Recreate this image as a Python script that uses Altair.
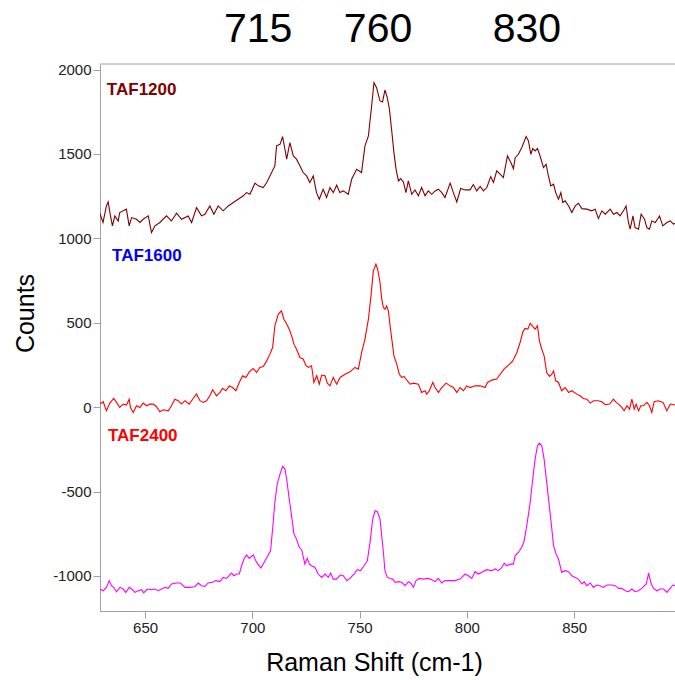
import altair as alt
import pandas as pd

# ---------------- data ----------------
taf1200_x = [628.9, 630.4, 632.0, 632.8, 633.9, 634.8, 635.9, 637.5, 638.2, 639.8, 641.3, 642.6, 643.7, 646.0,
             647.6, 649.1, 651.5, 653.0, 654.6, 656.9, 660.0, 662.3, 664.7, 667.0, 670.1, 671.7, 674.0, 676.3,
             677.9, 680.2, 682.1, 684.1, 686.4, 688.8, 691.1, 693.4, 695.8, 697.3, 698.9, 701.2, 702.8, 705.1,
             706.7, 709.0, 710.5, 711.3, 712.9, 714.1, 715.2, 716.0, 717.5, 719.1, 720.6, 722.2, 723.7, 725.3,
             726.8, 728.4, 729.9, 731.2, 733.0, 734.6, 736.2, 737.7, 739.3, 740.8, 742.4, 744.7, 746.3, 748.6,
             750.9, 752.5, 754.1, 755.6, 756.7, 757.9, 759.5, 760.7, 761.8, 762.9, 763.9, 764.9, 766.0, 767.0,
             768.1, 769.1, 770.4, 771.6, 772.7, 774.3, 775.8, 777.4, 778.9, 780.5, 782.0, 783.6, 785.2, 786.7,
             788.3, 789.8, 792.2, 793.7, 795.3, 797.1, 799.2, 801.5, 803.0, 804.6, 806.2, 807.7, 809.3, 811.1,
             812.4, 813.9, 815.5, 817.0, 818.9, 820.5, 821.7, 822.5, 824.0, 825.6, 827.6, 828.7, 829.8, 830.7,
             831.8, 832.9, 834.1, 835.7, 836.9, 838.0, 839.1, 840.4, 841.4, 842.7, 843.8, 844.7, 845.8, 847.4,
             848.9, 850.5, 852.0, 853.6, 855.9, 858.2, 859.8, 861.3, 862.9, 864.5, 866.8, 868.3, 869.9, 871.4,
             873.0, 874.2, 875.3, 876.1, 877.4, 878.4, 880.0, 881.2, 882.8, 883.9, 885.1, 886.2, 887.8, 889.8,
             891.3, 893.2, 894.8, 896.3, 897.1]
taf1200_y = [1149, 1094, 1192, 1216, 1133, 1074, 1133, 1103, 1153, 1163, 1173, 1074, 1123, 1113,
             1094, 1113, 1133, 1034, 1074, 1094, 1133, 1103, 1149, 1113, 1133, 1094, 1182, 1133,
             1143, 1192, 1143, 1192, 1163, 1192, 1212, 1232, 1252, 1271, 1261, 1327, 1311, 1301,
             1331, 1390, 1429, 1548, 1557, 1603, 1528, 1469, 1567, 1488, 1469, 1429, 1390, 1370,
             1331, 1370, 1271, 1232, 1291, 1242, 1301, 1271, 1315, 1271, 1281, 1261, 1350, 1409,
             1390, 1548, 1607, 1784, 1923, 1893, 1814, 1808, 1879, 1834, 1765, 1646, 1508, 1409,
             1340, 1354, 1334, 1271, 1340, 1261, 1287, 1252, 1301, 1252, 1281, 1261, 1281, 1291,
             1271, 1242, 1327, 1271, 1216, 1295, 1287, 1287, 1319, 1281, 1307, 1281, 1301, 1366,
             1331, 1400, 1380, 1360, 1488, 1449, 1413, 1478, 1498, 1538, 1603, 1577, 1498, 1532,
             1518, 1532, 1488, 1419, 1439, 1370, 1311, 1321, 1271, 1232, 1271, 1212, 1222, 1192,
             1153, 1192, 1208, 1176, 1173, 1163, 1173, 1117, 1163, 1143, 1173, 1143, 1153, 1133,
             1163, 1192, 1094, 1054, 1133, 1064, 1054, 1143, 1113, 1064, 1054, 1103, 1094, 1133,
             1074, 1094, 1103, 1084, 1090]

taf1600_x = [628.9, 630.5, 632.0, 633.6, 635.4, 636.7, 638.2, 639.8, 641.35, 642.6, 643.2, 644.5, 646.0, 647.6,
             649.1, 650.7, 652.2, 653.8, 655.3, 656.9, 658.5, 660.8, 662.3, 663.9, 665.45, 667.0, 668.6, 670.6,
             672.4, 674.0, 675.6, 677.1, 678.7, 680.2, 681.5, 683.3, 684.9, 686.1, 687.7, 689.2, 690.8, 692.35,
             693.9, 695.5, 697.0, 698.6, 700.4, 702.0, 703.5, 705.1, 706.65, 708.2, 709.45, 710.5, 712.1, 713.6,
             714.7, 716.0, 717.2, 718.3, 719.4, 720.6, 722.2, 723.75, 725.0, 726.1, 727.6, 728.7, 730.0, 731.2,
             732.3, 733.9, 734.95, 736.2, 737.7, 739.3, 740.9, 743.2, 745.5, 747.85, 749.4, 750.95, 752.5, 754.1,
             755.3, 756.4, 757.6, 758.4, 759.5, 760.3, 761.1, 761.8, 762.6, 763.4, 764.2, 765.0, 766.0, 767.3,
             768.5, 769.6, 770.7, 771.9, 773.5, 775.1, 777.4, 778.9, 780.5, 781.3, 782.5, 784.1, 785.2, 786.7,
             788.3, 790.3, 792.2, 793.7, 795.3, 796.8, 798.4, 799.9, 801.5, 803.8, 806.2, 808.5, 809.6, 811.6,
             813.9, 815.5, 817.3, 819.4, 821.4, 823.3, 824.8, 826.1, 827.1, 828.4, 829.5, 830.7, 831.8, 832.9,
             833.8, 834.9, 836.0, 837.2, 838.5, 839.6, 840.4, 841.4, 842.7, 844.2, 845.8, 847.4, 848.9, 851.2,
             852.8, 854.3, 855.9, 857.5, 859.0, 861.3, 862.9, 864.5, 866.5, 868.3, 869.6, 870.7, 872.2, 873.3,
             874.6, 875.8, 876.9, 878.0, 878.9, 880.0, 881.1, 882.3, 883.9, 885.1, 886.2, 887.3, 889.3, 891.4,
             893.2, 894.8, 897.1]
taf1600_y = [18, 32, -22, 24, 51, 28, -2, 18, 12, 47, -2, -32, 8, -2,
             24, 8, 18, 18, 4, -28, -16, -22, 8, 47, 38, 18, 38, 18,
             51, 77, 38, 28, 38, 67, 103, 67, 87, 111, 97, 126, 116, 97,
             146, 186, 176, 209, 229, 205, 235, 241, 274, 314, 353, 482, 551, 570,
             521, 492, 462, 422, 373, 343, 294, 284, 245, 235, 245, 146, 186, 136,
             190, 186, 142, 126, 176, 136, 176, 195, 209, 235, 225, 324, 403, 521,
             659, 807, 847, 817, 740, 640, 590, 580, 600, 570, 482, 403, 304, 255,
             195, 176, 182, 162, 136, 142, 136, 87, 97, 77, 97, 146, 116, 87,
             116, 142, 126, 116, 87, 116, 97, 126, 116, 126, 126, 116, 146, 160,
             166, 195, 225, 249, 274, 324, 383, 446, 466, 462, 497, 478, 462, 482,
             393, 343, 304, 205, 182, 195, 215, 156, 146, 97, 116, 87, 97, 77,
             67, 51, 47, 24, 38, 38, 32, 14, 18, 47, 28, 18, -2, -22,
             8, -12, 47, -12, 18, -22, 8, 8, 28, 8, -32, 32, 38, 28,
             -22, 18, 12]

taf2400_x = [628.9, 630.5, 632.0, 633.3, 634.35, 635.4, 636.7, 638.2, 639.8, 641.0, 642.6, 644.2, 645.2, 646.8,
             648.35, 649.4, 651.0, 653.0, 654.6, 656.1, 657.7, 659.2, 660.8, 662.3, 664.7, 666.5, 668.6, 670.9,
             673.2, 674.8, 676.3, 677.9, 679.4, 681.5, 683.0, 684.9, 686.4, 688.0, 689.2, 690.3, 691.4, 692.7,
             693.9, 695.0, 696.1, 697.3, 698.6, 700.4, 702.0, 704.0, 705.9, 707.4, 708.5, 709.45, 710.5, 711.6,
             712.9, 714.1, 715.2, 716.0, 717.2, 718.3, 719.4, 720.6, 721.9, 723.0, 724.5, 725.6, 726.6, 727.6,
             729.2, 730.7, 732.3, 733.9, 735.4, 736.5, 737.7, 739.3, 740.9, 742.4, 744.0, 745.5, 747.4, 748.9,
             750.5, 752.05, 753.6, 754.85, 756.1, 757.2, 758.3, 759.5, 760.3, 761.1, 761.8, 762.9, 764.2, 765.4,
             766.5, 768.1, 769.6, 771.2, 772.7, 773.8, 775.1, 776.3, 777.9, 779.7, 782.0, 783.6, 785.2, 786.7,
             788.3, 789.8, 792.2, 794.5, 796.8, 799.2, 800.7, 802.3, 803.8, 805.4, 806.9, 809.3, 811.6, 813.2,
             814.7, 816.3, 817.4, 818.6, 820.1, 821.7, 822.5, 824.0, 825.6, 826.7, 827.9, 829.5, 830.7, 831.8,
             832.9, 833.8, 834.9, 836.0, 837.2, 838.5, 839.6, 840.4, 841.6, 842.7, 844.2, 845.8, 847.4, 848.9,
             850.5, 852.0, 853.6, 854.7, 855.9, 857.5, 859.0, 860.6, 862.1, 863.7, 865.2, 867.6, 869.1, 870.7,
             872.2, 873.8, 875.3, 876.9, 878.4, 880.0, 881.5, 883.6, 884.7, 885.8, 887.0, 888.6, 890.1, 891.7,
             893.2, 894.5, 896.0, 897.1]
taf2400_y = [-1078, -1088, -1068, -1028, -1058, -1068, -1094, -1068, -1078, -1098, -1068, -1082, -1098, -1088,
             -1082, -1101, -1078, -1082, -1078, -1088, -1078, -1068, -1074, -1048, -1042, -1042, -1068, -1068,
             -1064, -1042, -1058, -1062, -1042, -1038, -1028, -1034, -1009, -1015, -999, -983, -999, -989,
             -989, -940, -900, -876, -896, -876, -920, -953, -910, -876, -851, -722, -565, -456,
             -397, -351, -367, -426, -545, -644, -752, -782, -831, -845, -930, -896, -930, -940,
             -950, -989, -1009, -989, -1009, -983, -1019, -1019, -995, -999, -1028, -1015, -989, -963,
             -969, -940, -910, -801, -663, -614, -620, -663, -762, -861, -969, -1009, -1015, -1019,
             -1038, -1034, -1038, -1058, -1034, -1042, -1068, -1028, -1015, -1019, -1015, -1023, -1034, -1015,
             -1042, -1028, -1028, -1028, -1019, -989, -999, -1015, -975, -989, -979, -963, -969, -959,
             -969, -950, -924, -940, -930, -930, -880, -861, -831, -792, -703, -565, -426, -308,
             -229, -213, -229, -308, -446, -594, -722, -821, -871, -900, -979, -969, -975, -999,
             -1009, -1019, -1048, -1034, -1058, -1042, -1068, -1054, -1058, -1068, -1054, -1054, -1058, -1074,
             -1074, -1088, -1094, -1078, -1094, -1088, -1074, -1048, -983, -1042, -1074, -1088, -1078, -1078,
             -1098, -1078, -1054, -1058]

series_names = ["TAF1200", "TAF1600", "TAF2400"]
line_colors = ["#800000", "#ff0000", "#ff00ff"]
label_colors = ["#800000", "#0000ff", "#ff0000"]
label_x = [632.2, 634.6, 632.7]
label_y = [1849, 865, -201]

peak_labels = ["715", "760", "830"]
peak_label_x = [702.7, 758.6, 828.0]

x_ticks = [650, 700, 750, 800, 850]
y_ticks = [-1000, -500, 0, 500, 1000, 1500, 2000]

# ---------------- tables ----------------
rows = []
for name, xs, ys in zip(series_names,
                        [taf1200_x, taf1600_x, taf2400_x],
                        [taf1200_y, taf1600_y, taf2400_y]):
    for xv, yv in zip(xs, ys):
        rows.append({"series": name, "shift": xv, "counts": yv})
df = pd.DataFrame(rows)

labels_df = pd.DataFrame({"series": series_names, "shift": label_x, "counts": label_y})
peaks_df = pd.DataFrame({"text": peak_labels, "shift": peak_label_x})

W, H = 575, 547
FONT = "Liberation Sans"

xscale = alt.Scale(domain=[629, 897], nice=False, zero=False)
yscale = alt.Scale(domain=[-1208, 2033], nice=False, zero=False)

x_enc = alt.X("shift:Q", scale=xscale,
              axis=alt.Axis(values=x_ticks, title="Raman Shift (cm-1)", grid=False,
                            tickSize=7, labelPadding=2, titleX=274, titleY=59,
                            titleBaseline="alphabetic", titleAlign="center"))
y_enc = alt.Y("counts:Q", scale=yscale,
              axis=alt.Axis(values=y_ticks, title="Counts", grid=False,
                            tickSize=7, labelPadding=2,
                            labelExpr="datum.value < 0 ? '-' + abs(datum.value) : '' + datum.value",
                            titleX=-67, titleY=249, titleAngle=270,
                            titleBaseline="alphabetic", titleAlign="center"))

lines = alt.Chart(df).mark_line(strokeWidth=1.1, clip=True).encode(
    x=x_enc,
    y=y_enc,
    color=alt.Color("series:N", scale=alt.Scale(domain=series_names, range=line_colors), legend=None),
    detail="series:N",
)

labels = alt.Chart(labels_df).mark_text(
    align="left", baseline="alphabetic", font=FONT, fontSize=17, fontWeight="bold"
).encode(
    x=alt.X("shift:Q", scale=xscale),
    y=alt.Y("counts:Q", scale=yscale),
    text="series:N",
    color=alt.Color("series:N", scale=alt.Scale(domain=series_names, range=label_colors), legend=None),
)

peaks = alt.Chart(peaks_df).mark_text(
    align="center", baseline="alphabetic", font=FONT, fontSize=41, color="black"
).encode(
    x=alt.X("shift:Q", scale=xscale),
    y=alt.value(-22),
    text="text:N",
)

top_border = alt.Chart(pd.DataFrame({"b": [0]})).mark_rule(color="#a0a0a0", strokeWidth=1).encode(
    y=alt.value(0)
)

chart = alt.layer(top_border, lines, labels, peaks).resolve_scale(color="independent").properties(
    width=W, height=H,
    autosize=alt.AutoSizeParams(type="none"),
    padding={"left": 100, "top": 64, "right": 0, "bottom": 69},
).configure_view(stroke=None).configure_axis(
    domainColor="#a0a0a0", tickColor="#a0a0a0", labelColor="#222222",
    labelFont=FONT, labelFontSize=15, titleFont=FONT, titleFontSize=25,
    titleFontWeight="normal", titleColor="black",
)

chart.save("out.html", embed_options={"renderer": "svg", "actions": False})
